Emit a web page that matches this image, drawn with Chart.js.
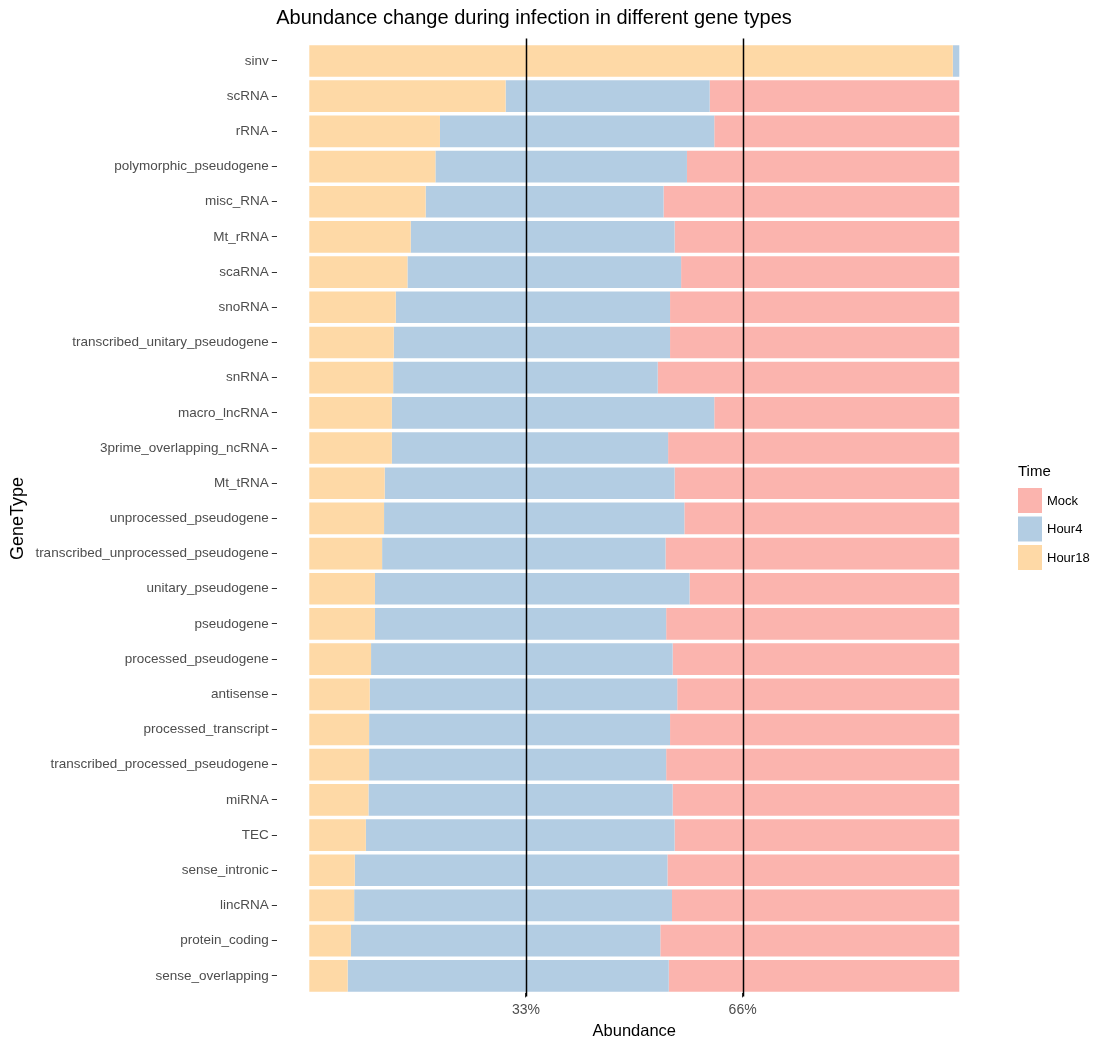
<!DOCTYPE html>
<html>
<head>
<meta charset="utf-8">
<title>Abundance change during infection in different gene types</title>
<script src="https://cdn.jsdelivr.net/npm/chart.js@4/dist/chart.umd.min.js"></script>
<style>
  html, body { margin: 0; padding: 0; background: #fff; }
  #wrap { width: 1096px; height: 1041px; }
</style>
</head>
<body>
<div id="wrap"><canvas id="abundanceChart"></canvas></div>
<script>
const geneTypes = [
    "sinv", "scRNA", "rRNA", "polymorphic_pseudogene", "misc_RNA", "Mt_rRNA", "scaRNA",
    "snoRNA", "transcribed_unitary_pseudogene", "snRNA", "macro_lncRNA", "3prime_overlapping_ncRNA",
    "Mt_tRNA", "unprocessed_pseudogene", "transcribed_unprocessed_pseudogene", "unitary_pseudogene",
    "pseudogene", "processed_pseudogene", "antisense", "processed_transcript",
    "transcribed_processed_pseudogene", "miRNA", "TEC", "sense_intronic", "lincRNA",
    "protein_coding", "sense_overlapping"
];

// share of reads (%) per time point
const hour18 = [99.0, 30.2, 20.1, 19.4, 17.9, 15.6, 15.1, 13.3, 13.0, 12.9, 12.7, 12.7, 11.6, 11.5,
    11.2, 10.1, 10.1, 9.5, 9.3, 9.2, 9.2, 9.1, 8.7, 7.0, 6.9, 6.4, 5.9];
const hour4 = [1.0, 31.4, 42.2, 38.7, 36.6, 40.6, 42.1, 42.2, 42.5, 40.7, 49.6, 42.5, 44.6, 46.2,
    43.6, 48.4, 44.8, 46.4, 47.3, 46.3, 45.7, 46.8, 47.5, 48.1, 48.9, 47.6, 49.4];
const mock = [0.0, 38.4, 37.7, 41.9, 45.5, 43.8, 42.8, 44.5, 44.5, 46.4, 37.7, 44.8, 43.8, 42.3,
    45.2, 41.5, 45.1, 44.1, 43.4, 44.5, 45.1, 44.1, 43.8, 44.9, 44.2, 46.0, 44.7];

const xTicks = [100 / 3, 200 / 3];
const xTickLabels = ["33%", "66%"];

const colors = { Mock: "#FBB4AE", Hour4: "#B3CDE3", Hour18: "#FED9A6" };
const fontFamily = "'Liberation Sans', Arial, Helvetica, sans-serif";

// title, reference lines and the legend on the right
const extras = {
    id: "extras",
    afterDatasetsDraw(chart) {
        const { ctx, chartArea, scales } = chart;
        ctx.save();
        ctx.strokeStyle = "#000";
        ctx.lineWidth = 1.5;
        xTicks.forEach(v => {
            const x = Math.round(scales.x.getPixelForValue(v)) + 0.5;
            ctx.beginPath();
            ctx.moveTo(x, chartArea.top - 5);
            ctx.lineTo(x, chartArea.bottom + 3);
            ctx.stroke();
        });
        ctx.restore();
    },
    afterDraw(chart) {
        const { ctx } = chart;
        ctx.save();
        ctx.fillStyle = "#000";
        ctx.font = "20px " + fontFamily;
        ctx.textAlign = "center";
        ctx.textBaseline = "middle";
        ctx.fillText("Abundance change during infection in different gene types", 534, 18);

        ctx.textAlign = "left";
        ctx.font = "15px " + fontFamily;
        ctx.fillText("Time", 1018, 472);

        const items = ["Mock", "Hour4", "Hour18"];
        ctx.font = "13px " + fontFamily;
        items.forEach((name, i) => {
            const top = 488 + i * 28.5;
            ctx.fillStyle = colors[name];
            ctx.fillRect(1018, top, 24, 25);
            ctx.fillStyle = "#000";
            ctx.fillText(name, 1047, top + 13);
        });
        ctx.restore();
    }
};

new Chart(document.getElementById("abundanceChart"), {
    type: "bar",
    data: {
        labels: geneTypes,
        datasets: [
            { label: "Hour18", data: hour18, backgroundColor: colors.Hour18 },
            { label: "Hour4", data: hour4, backgroundColor: colors.Hour4 },
            { label: "Mock", data: mock, backgroundColor: colors.Mock }
        ]
    },
    options: {
        indexAxis: "y",
        responsive: true,
        maintainAspectRatio: false,
        animation: false,
        datasets: { bar: { barPercentage: 0.9, categoryPercentage: 1.0, borderWidth: 0 } },
        layout: { padding: { top: 43.4, right: 104.2, left: 0, bottom: 0 } },
        plugins: { legend: { display: false }, tooltip: { enabled: false }, title: { display: false } },
        scales: {
            x: {
                stacked: true,
                min: -5,
                max: 105,
                afterBuildTicks: axis => { axis.ticks = xTicks.map(v => ({ value: v })); },
                afterFit: axis => { axis.height = 47.6; },
                border: { display: false },
                grid: { drawOnChartArea: false, tickLength: 4, color: "#333", tickColor: "#333" },
                ticks: {
                    autoSkip: false,
                    maxRotation: 0,
                    padding: 4,
                    color: "#4d4d4d",
                    font: { family: fontFamily, size: 14 },
                    callback: (v, i) => xTickLabels[i]
                },
                title: {
                    display: true,
                    text: "Abundance",
                    color: "#000",
                    font: { family: fontFamily, size: 16.5 },
                    padding: { top: 0, bottom: 0 }
                }
            },
            y: {
                stacked: true,
                afterFit: axis => { axis.width = 276.8; },
                border: { display: false },
                grid: { drawOnChartArea: false, offset: false, tickLength: 5, color: "#333", tickColor: "#333" },
                ticks: {
                    autoSkip: false,
                    padding: 3,
                    color: "#4d4d4d",
                    font: { family: fontFamily, size: 13.5 }
                },
                title: {
                    display: true,
                    text: "GeneType",
                    color: "#000",
                    font: { family: fontFamily, size: 18 },
                    padding: { top: 7, bottom: 0 }
                }
            }
        }
    },
    plugins: [extras]
});
</script>
</body>
</html>
